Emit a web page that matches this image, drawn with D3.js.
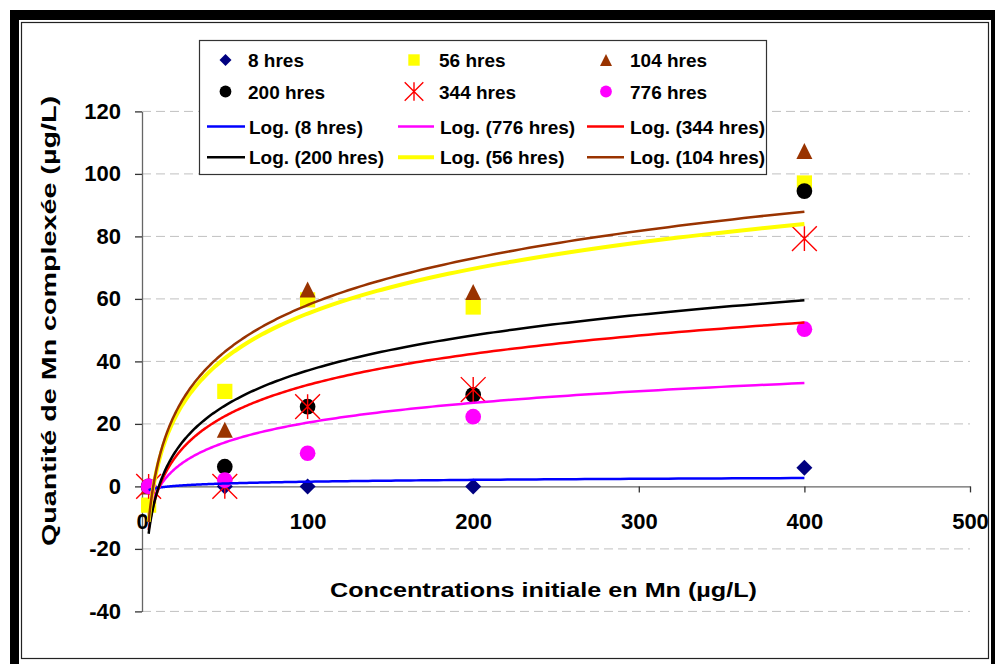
<!DOCTYPE html>
<html>
<head>
<meta charset="utf-8">
<script src="https://cdn.jsdelivr.net/npm/d3@7"></script>
<style>
  html, body { margin: 0; padding: 0; background: #fff; }
  svg { display: block; font-family: "Liberation Sans", Arial, sans-serif; font-weight: bold; }
</style>
</head>
<body>
<svg id="chart" width="995" height="664"></svg>
<script>
// Initial Mn concentration (µg/L)
const concentrations = [4, 50, 100, 200, 400];

// Complexed Mn (µg/L) after each contact time
const seriesNames = ["8 hres", "56 hres", "104 hres", "200 hres", "344 hres", "776 hres"];
const q8   = [0, 0, 0, 0, 6];
const q56  = [-6, 30.4, 59.7, 57.4, 97.1];
const q104 = [0, 18.1, 63, 62.2, 107.3];
const q200 = [0, 6.3, 25.5, 29.3, 94.5];
const q344 = [0, 0, 25.5, 31, 79.3];
const q776 = [0, 2, 10.6, 22.3, 50.3];

const xTicks = [0, 100, 200, 300, 400, 500];
const yTicks = [-40, -20, 0, 20, 40, 60, 80, 100, 120];

const xTitle = "Concentrations initiale en Mn (µg/L)";
const yTitle = "Quantité de Mn complexée (µg/L)";

// Legend order of the logarithmic trend lines
const trendOrder = ["8 hres", "776 hres", "344 hres", "200 hres", "56 hres", "104 hres"];

const series = [
  { name: "8 hres",   values: q8,   shape: "diamond",  color: "#000080", line: "#0000FF", width: 2.5 },
  { name: "56 hres",  values: q56,  shape: "square",   color: "#FFFF00", line: "#FFFF00", width: 4 },
  { name: "104 hres", values: q104, shape: "triangle", color: "#993300", line: "#993300", width: 2.5 },
  { name: "200 hres", values: q200, shape: "circle",   color: "#000000", line: "#000000", width: 2.5 },
  { name: "344 hres", values: q344, shape: "star",     color: "#FF0000", line: "#FF0000", width: 2.5 },
  { name: "776 hres", values: q776, shape: "circle",   color: "#FF00FF", line: "#FF00FF", width: 2.5 }
];

const svg = d3.select("#chart");

// Chart frame
svg.append("rect").attr("x", 10).attr("y", 10).attr("width", 985).attr("height", 10).attr("fill", "#000");
svg.append("rect").attr("x", 10).attr("y", 10).attr("width", 9).attr("height", 654).attr("fill", "#000");
svg.append("rect").attr("x", 991).attr("y", 10).attr("width", 4).attr("height", 654).attr("fill", "#000");
svg.append("rect").attr("x", 21.5).attr("y", 22.5).attr("width", 967).attr("height", 636)
  .attr("fill", "none").attr("stroke", "#222").attr("stroke-width", 1.2);

const x = d3.scaleLinear().domain([0, 500]).range([142, 970]);
const y = d3.scaleLinear().domain([-40, 120]).range([611.4, 111.4]);

// Horizontal dashed gridlines
svg.append("g").selectAll("line").data(yTicks.filter(d => d !== 0)).join("line")
  .attr("x1", x(0)).attr("x2", x(500))
  .attr("y1", d => y(d)).attr("y2", d => y(d))
  .attr("stroke", "#c0c0c0").attr("stroke-width", 1).attr("stroke-dasharray", "9,5");

const plainNumber = d => String(d);

// Y axis
const yAxis = svg.append("g").attr("transform", `translate(${x(0)},0)`)
  .call(d3.axisLeft(y).tickValues(yTicks).tickFormat(plainNumber)
    .tickSize(7).tickPadding(14).tickSizeOuter(0));
yAxis.select(".domain").attr("stroke", "#666").attr("stroke-width", 1.3);
yAxis.selectAll(".tick line").attr("stroke", "#333").attr("stroke-width", 1.3);
yAxis.selectAll(".tick text").attr("font-size", 22).attr("font-family", "Liberation Sans, Arial, sans-serif")
  .attr("font-weight", "bold").attr("fill", "#000");

// X axis drawn through y = 0
const xAxis = svg.append("g").attr("transform", `translate(0,${y(0)})`)
  .call(d3.axisBottom(x).tickValues(xTicks).tickFormat(plainNumber)
    .tickSize(6).tickPadding(21).tickSizeOuter(0));
xAxis.select(".domain").attr("stroke", "#666").attr("stroke-width", 1.3);
xAxis.selectAll(".tick line").attr("stroke", "#333").attr("stroke-width", 1.3);
xAxis.selectAll(".tick text").attr("font-size", 22).attr("font-family", "Liberation Sans, Arial, sans-serif")
  .attr("font-weight", "bold").attr("fill", "#000");

// Axis titles
svg.append("text").attr("x", 543.5).attr("y", 597).attr("text-anchor", "middle")
  .attr("font-size", 20).attr("textLength", 427).attr("lengthAdjust", "spacingAndGlyphs")
  .text(xTitle);
svg.append("text").attr("transform", "translate(56,321) rotate(-90)").attr("text-anchor", "middle")
  .attr("font-size", 20).attr("textLength", 450).attr("lengthAdjust", "spacingAndGlyphs")
  .text(yTitle);

// Marker drawing
function drawMarker(g, shape, color, s) {
  if (shape === "diamond") {
    g.append("path").attr("d", `M0,${-s}L${s},0L0,${s}L${-s},0Z`).attr("fill", color);
  } else if (shape === "square") {
    const h = s * 0.95;
    g.append("rect").attr("x", -h).attr("y", -h).attr("width", 2 * h).attr("height", 2 * h).attr("fill", color);
  } else if (shape === "triangle") {
    g.append("path").attr("d", `M0,${-s}L${s},${s}L${-s},${s}Z`).attr("fill", color);
  } else if (shape === "circle") {
    g.append("circle").attr("r", s * 0.98).attr("fill", color);
  } else if (shape === "star") {
    const k = s * 1.55;
    g.append("path").attr("d", `M${-k},${-k}L${k},${k}M${k},${-k}L${-k},${k}M0,${-k}L0,${k}`)
      .attr("stroke", color).attr("stroke-width", 1.4).attr("fill", "none");
  }
}

// Data markers
series.forEach(s => {
  const g = svg.append("g");
  s.values.forEach((v, i) => {
    const m = g.append("g").attr("transform", `translate(${x(concentrations[i])},${y(v)})`);
    drawMarker(m, s.shape, s.color, 8);
  });
});

// Least-squares logarithmic fit y = a + b ln(x)
function logFit(xs, ys) {
  const L = xs.map(Math.log);
  const mL = d3.mean(L), mY = d3.mean(ys);
  const b = d3.sum(L, (l, i) => (l - mL) * (ys[i] - mY)) / d3.sum(L, l => (l - mL) ** 2);
  return { a: mY - b * mL, b };
}

const line = d3.line().x(d => x(d[0])).y(d => y(d[1]));
const x0 = d3.min(concentrations), x1 = d3.max(concentrations);
const steps = d3.range(0, 241).map(i => x0 * Math.pow(x1 / x0, i / 240));

trendOrder.forEach(name => {
  const s = series.find(d => d.name === name);
  const fit = logFit(concentrations, s.values);
  svg.append("path")
    .datum(steps.map(v => [v, fit.a + fit.b * Math.log(v)]))
    .attr("d", line).attr("fill", "none")
    .attr("stroke", s.line).attr("stroke-width", s.width).attr("stroke-linejoin", "round");
});

// Legend
const legend = svg.append("g");
legend.append("rect").attr("x", 199.5).attr("y", 40.5).attr("width", 567).attr("height", 134)
  .attr("fill", "#fff").attr("stroke", "#333").attr("stroke-width", 1.2);

const colMarker = [225.5, 414, 606];
const colText = [248, 439, 630];
const rowY = [60, 91.5, 126.5, 157.3];

series.forEach((s, i) => {
  const r = Math.floor(i / 3), c = i % 3;
  const m = legend.append("g").attr("transform", `translate(${colMarker[c]},${rowY[r]})`);
  drawMarker(m, s.shape, s.color, 6);
  legend.append("text").attr("x", colText[c]).attr("y", rowY[r] + 7).attr("font-size", 19).text(s.name);
});

const lineStart = [207, 398, 587];
const lineEnd = [245, 434, 624];
const lineText = [249, 440, 630];
trendOrder.forEach((name, i) => {
  const s = series.find(d => d.name === name);
  const r = 2 + Math.floor(i / 3), c = i % 3;
  legend.append("line").attr("x1", lineStart[c]).attr("x2", lineEnd[c])
    .attr("y1", rowY[r]).attr("y2", rowY[r])
    .attr("stroke", s.line).attr("stroke-width", s.width);
  legend.append("text").attr("x", lineText[c]).attr("y", rowY[r] + 7).attr("font-size", 19)
    .text(`Log. (${name})`);
});
</script>
</body>
</html>
